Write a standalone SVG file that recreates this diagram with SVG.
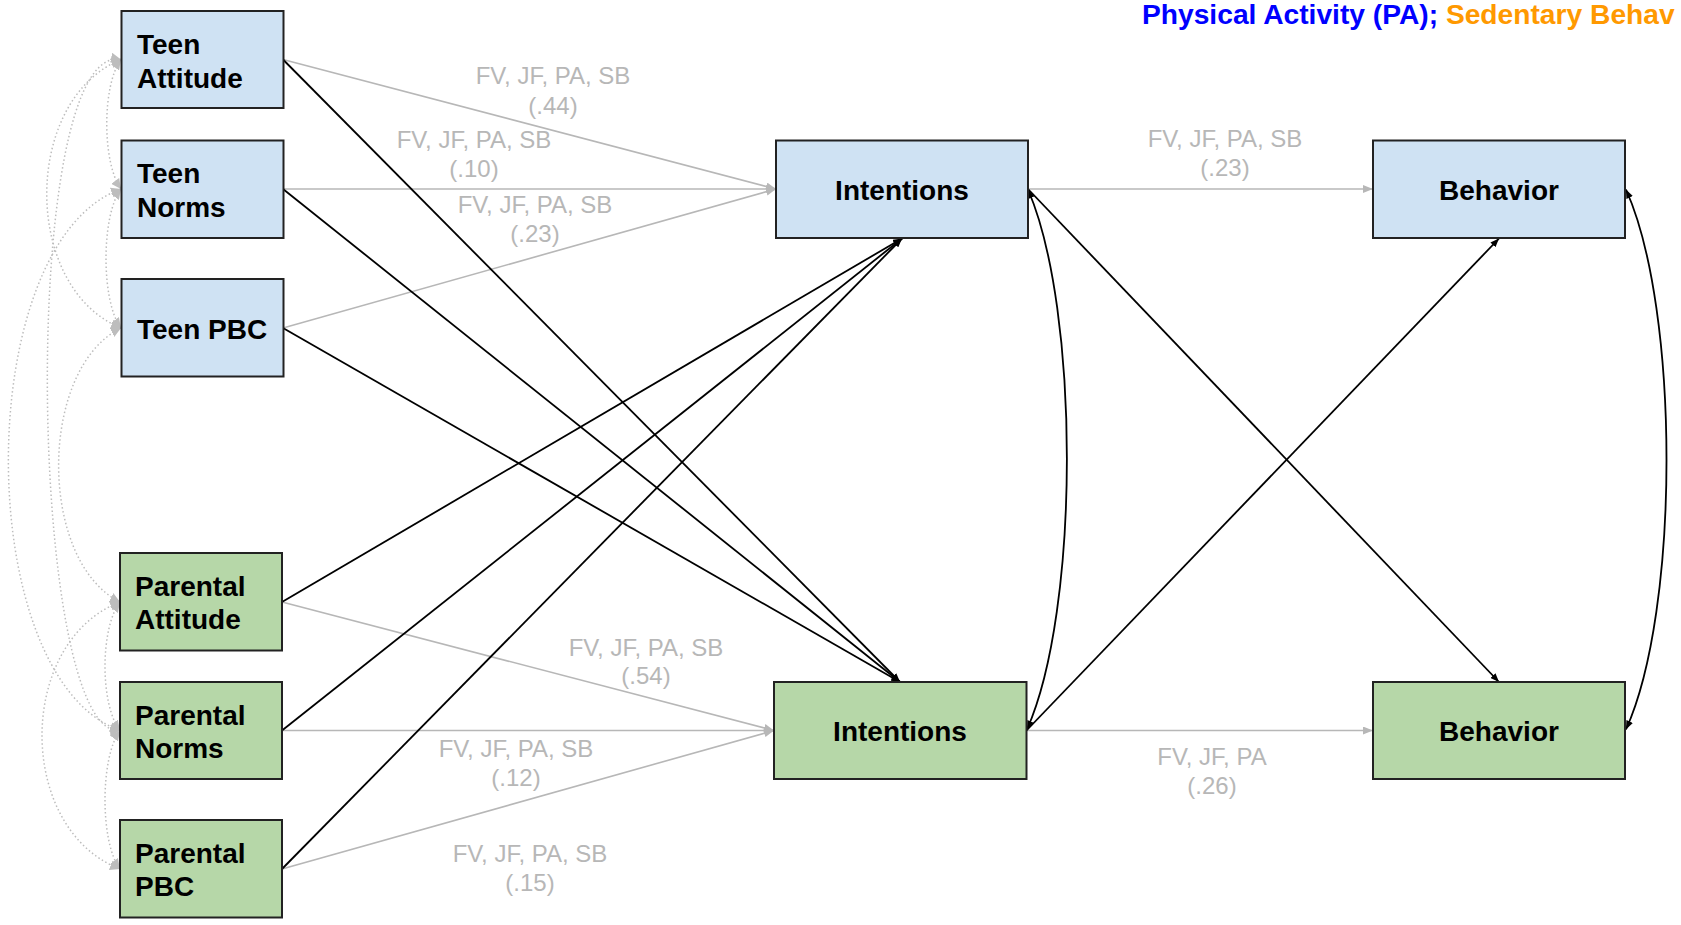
<svg xmlns="http://www.w3.org/2000/svg" width="1681" height="925" viewBox="0 0 1681 925">
  <style>
    .box { stroke: #222222; stroke-width: 2; }
    .teen { fill: #cfe2f3; }
    .parent { fill: #b6d7a8; }
    .lbl { font-family: "Liberation Sans", Arial, sans-serif; font-size: 28px; font-weight: bold; fill: #000000; }
    .elbl { font-family: "Liberation Sans", Arial, sans-serif; font-size: 24px; fill: #b7b7b7; text-anchor: middle; }
    .title { font-family: "Liberation Sans", Arial, sans-serif; font-size: 28.2px; font-weight: bold; }
    .path-black { fill: none; stroke: #000000; stroke-width: 1.8; }
    .path-gray { fill: none; stroke: #b7b7b7; stroke-width: 1.6; }
    .cov { fill: none; stroke: #bdbdbd; stroke-width: 1.5; stroke-dasharray: 1.5 2.5; }
  </style>
  <defs>
    <marker id="ah-black" viewBox="0 0 10 8" refX="10" refY="4" markerWidth="9" markerHeight="7" markerUnits="userSpaceOnUse" orient="auto-start-reverse">
      <path d="M0,0 L10,4 L0,8 z" fill="#000000"/>
    </marker>
    <marker id="ah-gray" viewBox="0 0 10 8" refX="10" refY="4" markerWidth="10" markerHeight="8" markerUnits="userSpaceOnUse" orient="auto-start-reverse">
      <path d="M0,0 L10,4 L0,8 z" fill="#b7b7b7"/>
    </marker>
    <marker id="ah-cov" viewBox="0 0 10 10" refX="10" refY="5" markerWidth="10" markerHeight="10" markerUnits="userSpaceOnUse" orient="auto-start-reverse">
      <path d="M0,0 L10,5 L0,10 z" fill="#bdbdbd"/>
    </marker>
  </defs>

  <rect width="1681" height="925" fill="#ffffff"/>

  <!-- legend line -->
  <text class="title" x="1142" y="24"><tspan fill="#0000ff">Physical Activity (PA); </tspan><tspan fill="#ff9900">Sedentary Behav</tspan></text>

  <!-- connectors -->
  <g id="connectors">
    <!-- covariances among predictors -->
    <g id="covariances">
      <path class="cov" marker-start="url(#ah-cov)" marker-end="url(#ah-cov)" d="M121,59.5 C102,85 102,163 121,189"/>
      <path class="cov" marker-start="url(#ah-cov)" marker-end="url(#ah-cov)" d="M121,189 C101,215 101,302 121,328"/>
      <path class="cov" marker-start="url(#ah-cov)" marker-end="url(#ah-cov)" d="M121,59.5 C22,100 22,288 121,328"/>
      <path class="cov" marker-start="url(#ah-cov)" marker-end="url(#ah-cov)" d="M121,189 C-29,243 -29,677 120,730.5"/>
      <path class="cov" marker-start="url(#ah-cov)" marker-end="url(#ah-cov)" d="M121,59.5 C18,40 28,740 120,730.5"/>
      <path class="cov" marker-start="url(#ah-cov)" marker-end="url(#ah-cov)" d="M121,328 C38,369 38,561 120,602"/>
      <path class="cov" marker-start="url(#ah-cov)" marker-end="url(#ah-cov)" d="M120,602 C100,628 100,705 120,730.5"/>
      <path class="cov" marker-start="url(#ah-cov)" marker-end="url(#ah-cov)" d="M120,730.5 C100,757 100,843 120,869"/>
      <path class="cov" marker-start="url(#ah-cov)" marker-end="url(#ah-cov)" d="M120,602 C16,642 16,829 120,869"/>
    </g>

    <!-- actor paths to own intentions -->
    <path class="path-gray" marker-end="url(#ah-gray)" d="M283,59.5 L776,189"/>
    <path class="path-gray" marker-end="url(#ah-gray)" d="M283,189 L776,189"/>
    <path class="path-gray" marker-end="url(#ah-gray)" d="M283,328 L776,189"/>
    <path class="path-gray" marker-end="url(#ah-gray)" d="M282,602 L774,730.5"/>
    <path class="path-gray" marker-end="url(#ah-gray)" d="M282,730.5 L774,730.5"/>
    <path class="path-gray" marker-end="url(#ah-gray)" d="M282,869 L774,730.5"/>

    <!-- partner paths -->
    <path class="path-black" marker-end="url(#ah-black)" d="M283,59.5 L900,682"/>
    <path class="path-black" marker-end="url(#ah-black)" d="M283,189 L900,682"/>
    <path class="path-black" marker-end="url(#ah-black)" d="M283,328 L900,682"/>
    <path class="path-black" marker-end="url(#ah-black)" d="M282,602 L902,238.5"/>
    <path class="path-black" marker-end="url(#ah-black)" d="M282,730.5 L902,238.5"/>
    <path class="path-black" marker-end="url(#ah-black)" d="M282,869 L902,238.5"/>

    <!-- intentions to behavior -->
    <path class="path-gray" marker-end="url(#ah-gray)" d="M1028,189 L1373,189"/>
    <path class="path-gray" marker-end="url(#ah-gray)" d="M1026.5,730.5 L1373,730.5"/>
    <path class="path-black" marker-end="url(#ah-black)" d="M1028,189 L1499,682"/>
    <path class="path-black" marker-end="url(#ah-black)" d="M1026.5,730.5 L1499,238.5"/>

    <!-- residual covariances -->
    <path class="path-black" marker-start="url(#ah-black)" marker-end="url(#ah-black)" d="M1028,189.5 C1080,310 1080,610 1027,729.5"/>
    <path class="path-black" marker-start="url(#ah-black)" marker-end="url(#ah-black)" d="M1626,189.5 C1680,310 1680,610 1626,729.5"/>

    <!-- path labels -->
    <text class="elbl" x="553" y="84">FV, JF, PA, SB</text>
    <text class="elbl" x="553" y="113.5">(.44)</text>
    <text class="elbl" x="474" y="148">FV, JF, PA, SB</text>
    <text class="elbl" x="474" y="177">(.10)</text>
    <text class="elbl" x="535" y="212.5">FV, JF, PA, SB</text>
    <text class="elbl" x="535" y="241.5">(.23)</text>
    <text class="elbl" x="1225" y="146.5">FV, JF, PA, SB</text>
    <text class="elbl" x="1225" y="175.5">(.23)</text>
    <text class="elbl" x="646" y="655.5">FV, JF, PA, SB</text>
    <text class="elbl" x="646" y="684">(.54)</text>
    <text class="elbl" x="516" y="756.5">FV, JF, PA, SB</text>
    <text class="elbl" x="516" y="785.5">(.12)</text>
    <text class="elbl" x="530" y="862">FV, JF, PA, SB</text>
    <text class="elbl" x="530" y="891">(.15)</text>
    <text class="elbl" x="1212" y="765">FV, JF, PA</text>
    <text class="elbl" x="1212" y="794">(.26)</text>
  </g>

  <!-- predictors -->
  <g id="teen-attitude">
    <rect class="box teen" x="121.5" y="11" width="162" height="97"/>
    <text class="lbl" x="137" y="53.5">Teen</text>
    <text class="lbl" x="137" y="87.5">Attitude</text>
  </g>
  <g id="teen-norms">
    <rect class="box teen" x="121.5" y="140.5" width="162" height="97.5"/>
    <text class="lbl" x="137" y="183">Teen</text>
    <text class="lbl" x="137" y="217">Norms</text>
  </g>
  <g id="teen-pbc">
    <rect class="box teen" x="121.5" y="279" width="162" height="97.5"/>
    <text class="lbl" x="137" y="338.5">Teen PBC</text>
  </g>
  <g id="parental-attitude">
    <rect class="box parent" x="120" y="553" width="162" height="97.5"/>
    <text class="lbl" x="135" y="596">Parental</text>
    <text class="lbl" x="135" y="629">Attitude</text>
  </g>
  <g id="parental-norms">
    <rect class="box parent" x="120" y="682" width="162" height="97"/>
    <text class="lbl" x="135" y="724.5">Parental</text>
    <text class="lbl" x="135" y="757.5">Norms</text>
  </g>
  <g id="parental-pbc">
    <rect class="box parent" x="120" y="820" width="162" height="97.5"/>
    <text class="lbl" x="135" y="862.5">Parental</text>
    <text class="lbl" x="135" y="896">PBC</text>
  </g>

  <!-- outcomes -->
  <g id="teen-intentions">
    <rect class="box teen" x="776" y="140.5" width="252" height="97.5"/>
    <text class="lbl" x="902" y="199.5" text-anchor="middle">Intentions</text>
  </g>
  <g id="parental-intentions">
    <rect class="box parent" x="774" y="682" width="252.5" height="97"/>
    <text class="lbl" x="900" y="741" text-anchor="middle">Intentions</text>
  </g>
  <g id="teen-behavior">
    <rect class="box teen" x="1373" y="140.5" width="252" height="97.5"/>
    <text class="lbl" x="1499" y="199.5" text-anchor="middle">Behavior</text>
  </g>
  <g id="parental-behavior">
    <rect class="box parent" x="1373" y="682" width="252" height="97"/>
    <text class="lbl" x="1499" y="741" text-anchor="middle">Behavior</text>
  </g>
</svg>
